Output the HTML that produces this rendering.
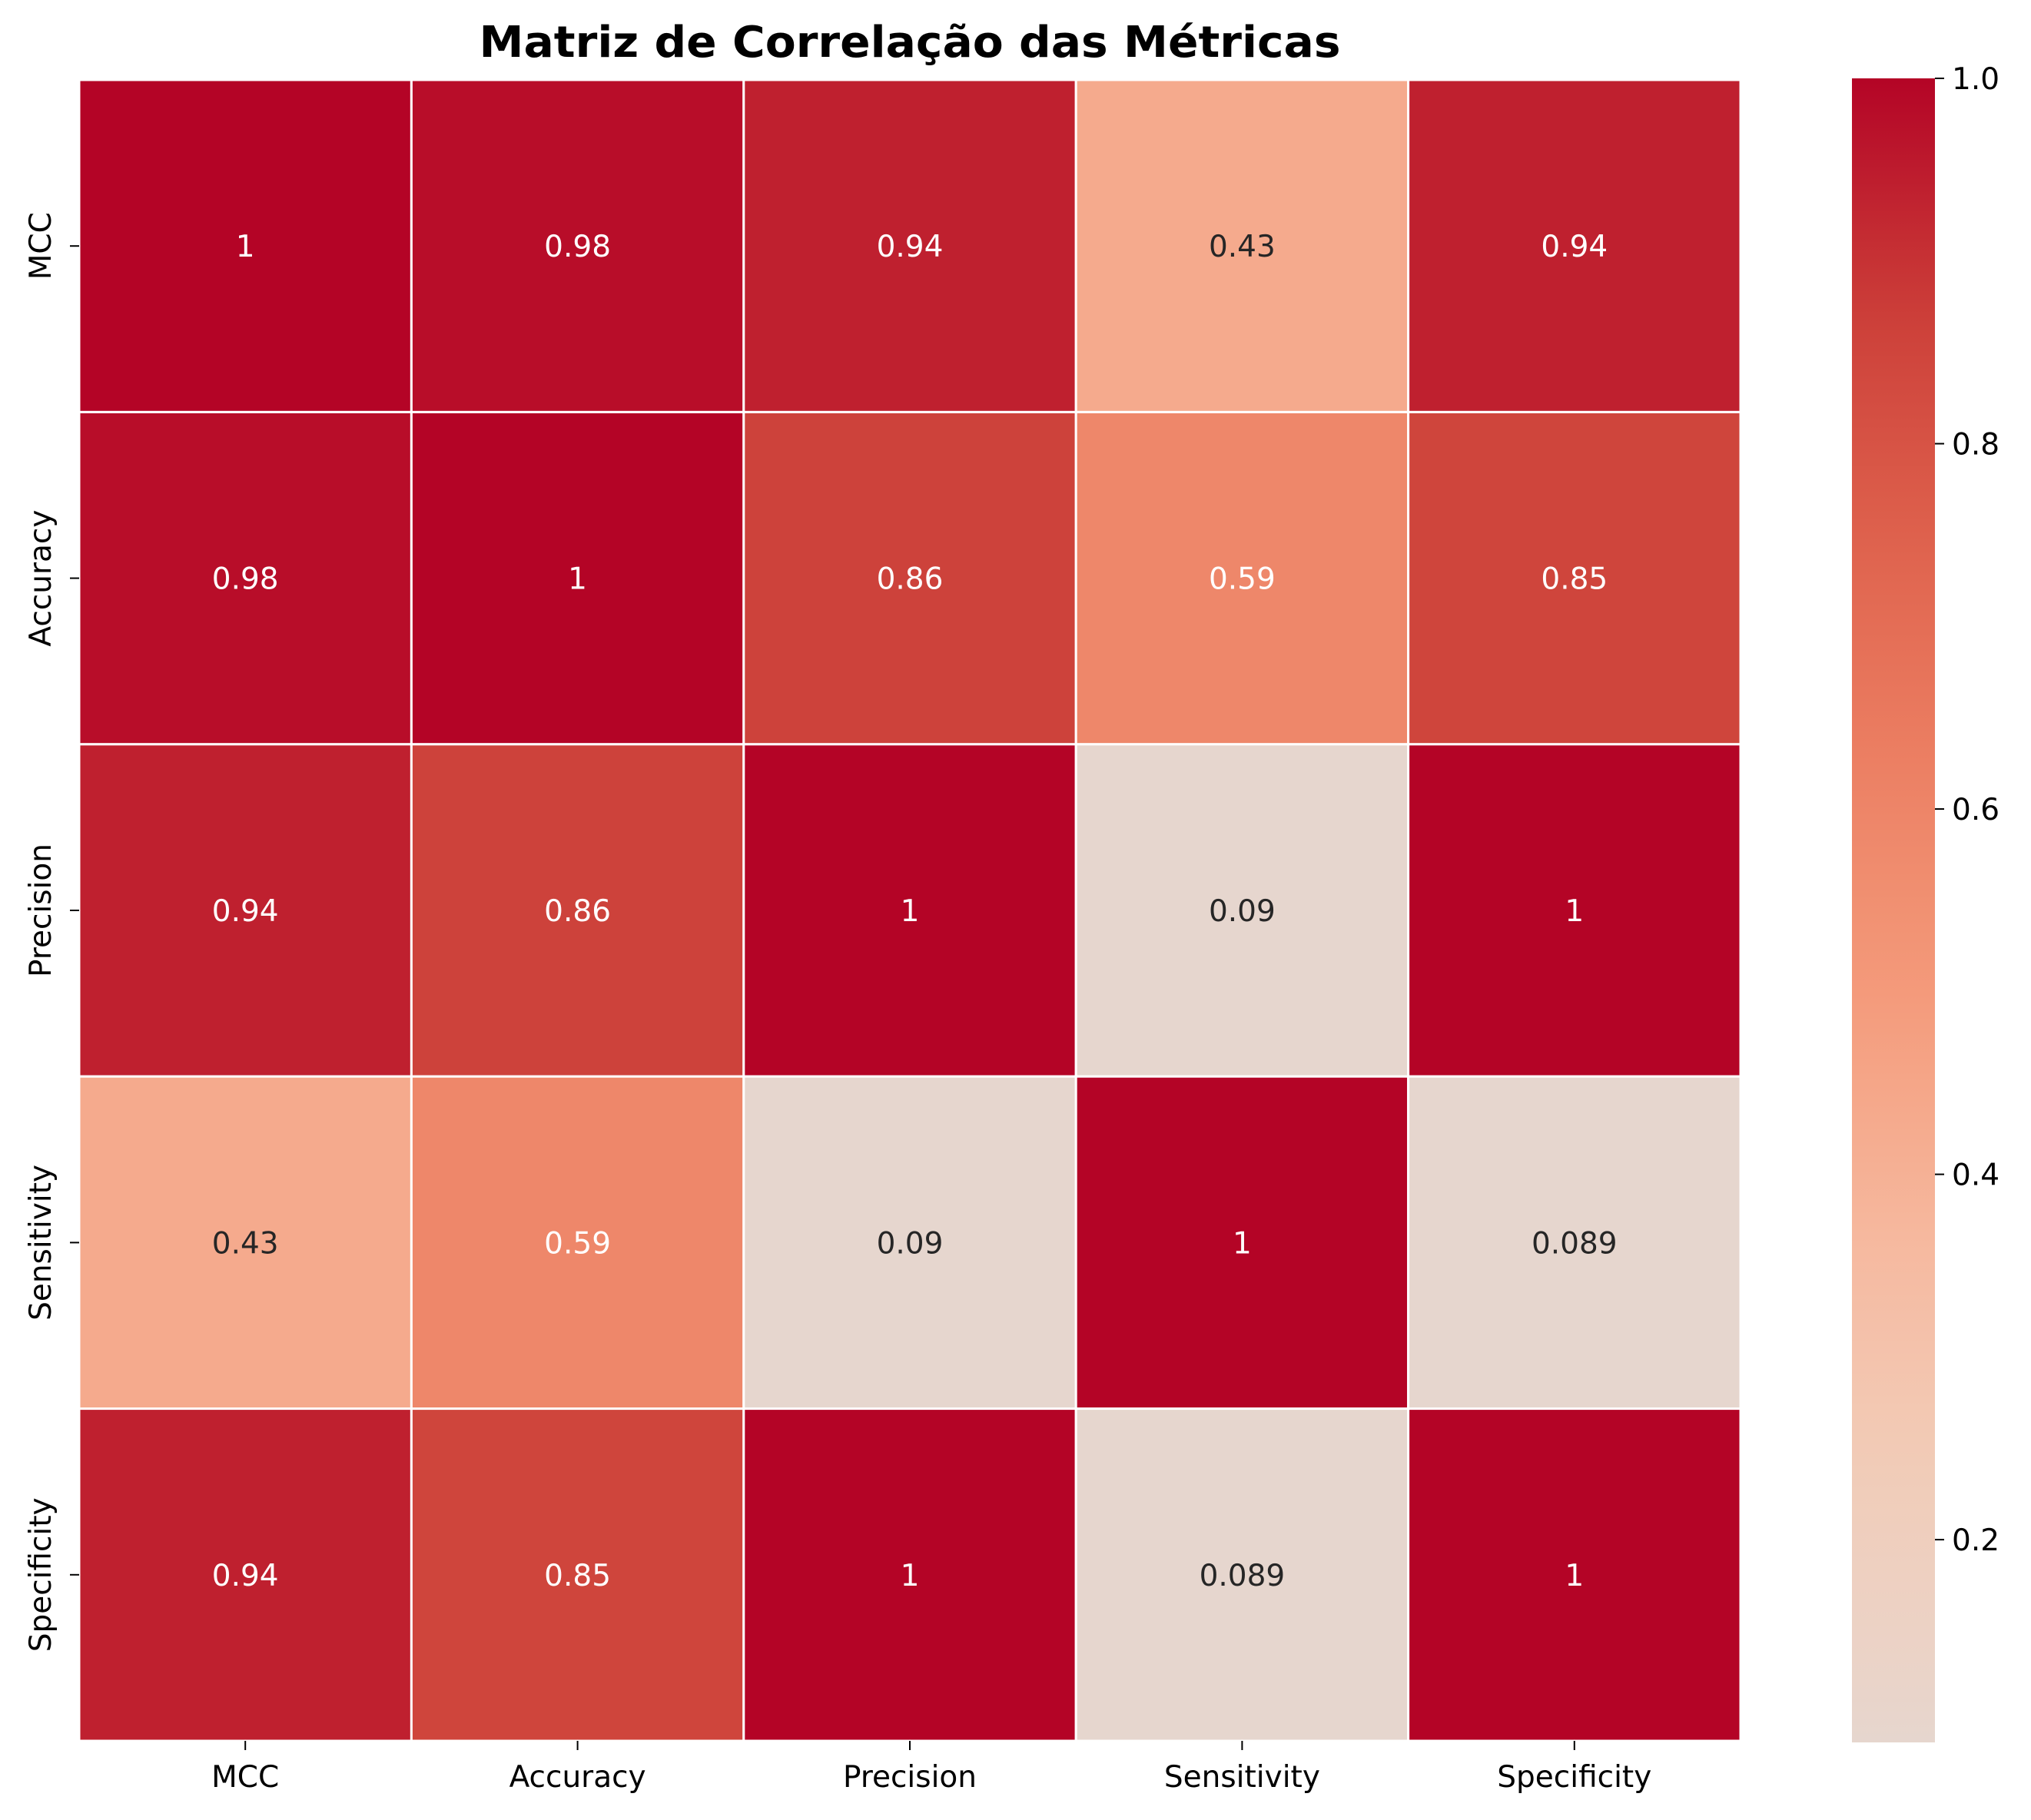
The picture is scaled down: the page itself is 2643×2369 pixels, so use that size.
<!DOCTYPE html>
<html><head><meta charset="utf-8"><style>html,body{margin:0;padding:0;background:#fff}svg{display:block}</style></head>
<body>
<svg id="chart" width="2643" height="2369" xmlns="http://www.w3.org/2000/svg" font-family="'DejaVu Sans','Liberation Sans',sans-serif">
<defs>
<linearGradient id="cbgrad" x1="0" y1="1" x2="0" y2="0"></linearGradient>
</defs>
<text x="1184" y="74" text-anchor="middle" font-size="56" font-weight="bold" textLength="1121" lengthAdjust="spacingAndGlyphs">Matriz de Correlação das Métricas</text>
<g id="cells"></g>
<g id="axes"></g>
<g id="colorbar"></g>
</svg>
<script>
const labels = ["MCC","Accuracy","Precision","Sensitivity","Specificity"];
const row0 = [1, 0.98, 0.94, 0.43, 0.94];
const row1 = [0.98, 1, 0.86, 0.59, 0.85];
const row2 = [0.94, 0.86, 1, 0.09, 1];
const row3 = [0.43, 0.59, 0.09, 1, 0.089];
const row4 = [0.94, 0.85, 1, 0.089, 1];
const rows = [row0,row1,row2,row3,row4];
const cbTicks = [0.2,0.4,0.6,0.8,1.0];
const cbMin = 0.089, cbMax = 1.0;

const NS="http://www.w3.org/2000/svg";
const L=103,R=2265,T=104,B=2266;
const cw=(R-L)/labels.length, ch=(B-T)/labels.length;
const stops=[[0.5,[221,220,220]],[0.5625,[234,212,200]],[0.625,[242,203,183]],[0.6875,[246,183,156]],[0.75,[244,154,123]],[0.8125,[236,128,99]],[0.875,[222,97,77]],[0.9375,[203,62,56]],[1.0,[180,4,38]]];
function cmap(v){
  let t=(v+1)/2; if(t<0.5)t=0.5; if(t>1)t=1;
  for(let i=0;i<stops.length-1;i++){
    const a=stops[i],b=stops[i+1];
    if(t>=a[0]&&t<=b[0]){const f=(t-a[0])/(b[0]-a[0]);
      const c=a[1].map((x,k)=>Math.round(x+(b[1][k]-x)*f));
      return `rgb(${c[0]},${c[1]},${c[2]})`;}
  }
  return "rgb(180,4,38)";
}
function fmt(v){return String(v);}
function mk(tag,attrs,parent){const e=document.createElementNS(NS,tag);for(const k in attrs)e.setAttribute(k,attrs[k]);parent.appendChild(e);return e;}
const cells=document.getElementById('cells');
rows.forEach((row,i)=>{row.forEach((v,j)=>{
  const r=mk('rect',{x:L+j*cw,y:T+i*ch,width:cw,height:ch,fill:cmap(v),stroke:'#fff','stroke-width':3},cells);
  
  
  const t=mk('text',{x:L+(j+0.5)*cw,y:T+(i+0.5)*ch+14,'text-anchor':'middle','font-size':39,fill:(v>0.5?'#fff':'#262626')},cells);
  t.textContent=fmt(v);
  
  
});});
const axes=document.getElementById('axes');
labels.forEach((lab,i)=>{
  const x=L+(i+0.5)*cw, y=T+(i+0.5)*ch;
  mk('line',{x1:x,y1:B,x2:x,y2:B+12,stroke:'#000','stroke-width':2},axes);
  const tx=mk('text',{x:x,y:B+60,'text-anchor':'middle','font-size':39},axes);
  tx.textContent=lab;
  
  
  mk('line',{x1:L-12,y1:y,x2:L,y2:y,stroke:'#000','stroke-width':2},axes);
  const ty=mk('text',{x:0,y:0,'text-anchor':'middle','font-size':39,transform:`translate(66,${y}) rotate(-90)`},axes);
  ty.textContent=lab;
  
  
});
const g=document.getElementById('cbgrad');
for(let k=0;k<=20;k++){const v=cbMin+(cbMax-cbMin)*k/20;mk('stop',{offset:(k/20),'stop-color':cmap(v)},g);}
const cb=document.getElementById('colorbar');
const CX=2410,CW=108,CT=102,CB=2268;
const bar=mk('rect',{x:CX,y:CT,width:CW,height:CB-CT,fill:'url(#cbgrad)'},cb);


cbTicks.forEach(v=>{
  const y=CB-(v-cbMin)/(cbMax-cbMin)*(CB-CT);
  mk('line',{x1:CX+CW,y1:y,x2:CX+CW+12,y2:y,stroke:'#000','stroke-width':2},cb);
  const t=mk('text',{x:CX+CW+22,y:y+14,'font-size':39},cb);
  t.textContent=v.toFixed(1);
  
  
});
</script>
</body></html>
